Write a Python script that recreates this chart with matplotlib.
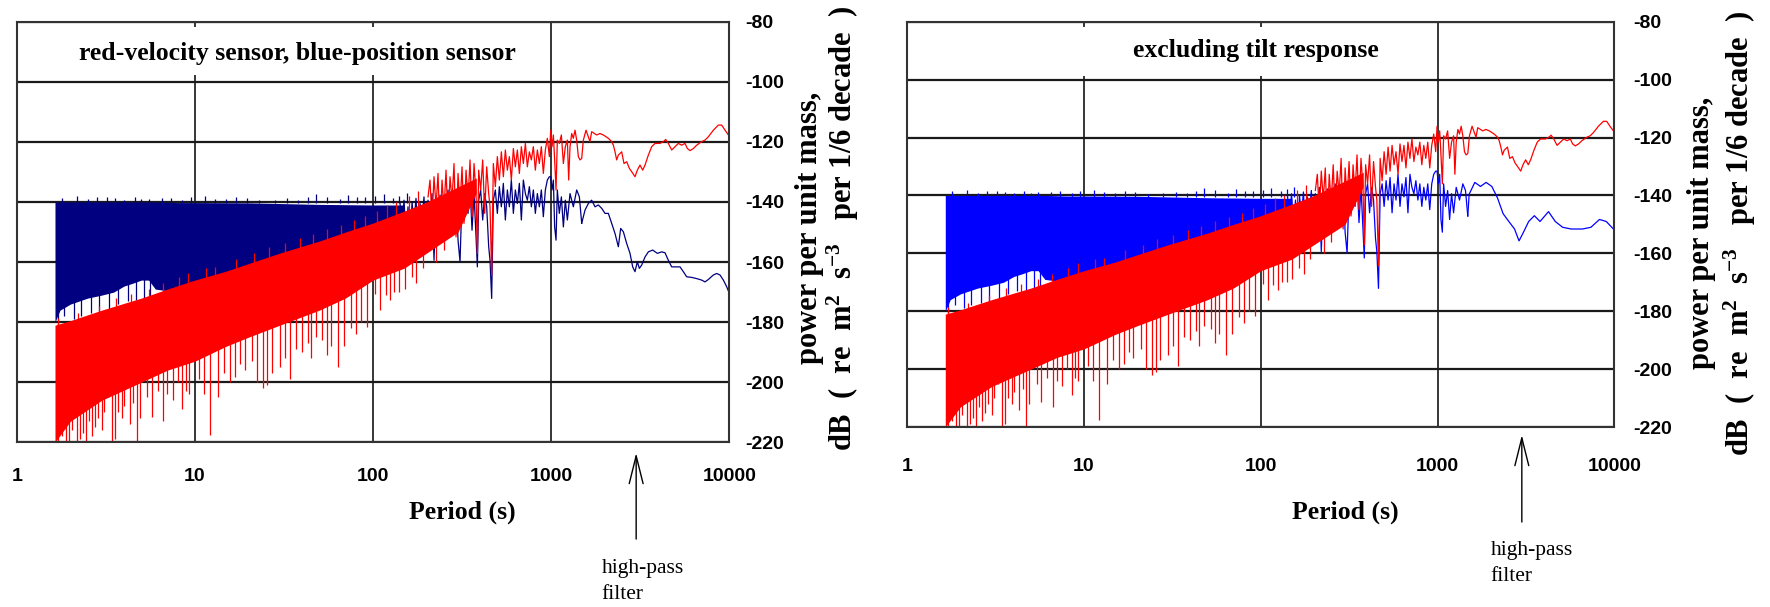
import numpy as np
import matplotlib
matplotlib.use("Agg")
import matplotlib.pyplot as plt
from matplotlib import font_manager
from matplotlib.patches import Rectangle
from matplotlib.ticker import NullLocator


def _resolve_font(candidates):
    for name in candidates:
        try:
            font_manager.findfont(name, fallback_to_default=False)
            return name
        except Exception:
            continue
    return "DejaVu Sans"


TICK_FONT = _resolve_font(["Liberation Sans Narrow", "Liberation Sans"])
TICK_SIZE = 16.5 if TICK_FONT == "Liberation Sans Narrow" else 14
SERIF_FONT = _resolve_font(["Liberation Serif", "DejaVu Serif"])

plt.rcParams["axes.unicode_minus"] = False
plt.rcParams["mathtext.fontset"] = "custom"
plt.rcParams["mathtext.rm"] = f"{SERIF_FONT}:bold"
plt.rcParams["mathtext.it"] = f"{SERIF_FONT}:bold"
plt.rcParams["mathtext.bf"] = f"{SERIF_FONT}:bold"

RED = "#FF0000"
NAVY = "#000080"
BLUE = "#0000FF"

PERIOD_TICKS = [1, 10, 100, 1000, 10000]
PERIOD_TICK_LABELS = ["1", "10", "100", "1000", "10000"]
DB_TICKS = [-220, -200, -180, -160, -140, -120, -100, -80]
DB_TICK_LABELS = ["-220", "-200", "-180", "-160", "-140", "-120", "-100", "-80"]

# dense short-period part of the velocity sensor spectrum (envelope of the band)
RED_BAND_PERIOD = [1.64, 2, 3, 5, 7, 10, 15, 20, 30, 50, 70, 100, 150, 200, 300, 380]
RED_BAND_TOP = [-181, -179.5, -176, -172, -169, -166, -163, -160.5, -157, -153, -150, -147, -143, -140,
                -135, -132]
RED_BAND_BOTTOM = [-220, -213, -206, -200, -196, -193, -188, -185, -181, -176, -172, -166, -162, -157,
                   -150, -137]

# downward spikes below the red band
RED_SPIKE_PERIOD = [1.7, 1.8, 1.88, 1.96, 2.05, 2.17, 2.27, 2.35, 2.45, 2.55, 2.65, 2.75, 2.85, 3.0,
                    3.1, 3.27, 3.42, 3.56, 3.7, 3.9, 4.0, 4.3, 4.5, 4.71, 4.9, 5.14, 5.4, 5.73, 6.2,
                    6.65, 7.0, 7.5, 8.0, 8.5, 8.9, 9.3, 10.5, 11.3, 12.1, 13.5, 14.5, 15.7, 16.9, 18,
                    19, 21, 22.4, 24.1, 25.5, 27, 30, 32, 34.2, 37, 40, 43, 45, 48, 52, 55, 58, 63.5,
                    69, 75, 80, 86, 93, 102.6, 110, 118, 125, 132, 140, 151, 165, 175, 190, 227, 250]
RED_SPIKE_LOW = [-220, -218, -220, -220, -216, -220, -219, -217, -220, -213, -218, -215, -212, -216,
                 -210, -205, -220, -219, -210, -212, -208, -214, -207, -220, -212, -196, -205, -211.5, -203,
                 -213, -204, -206, -200, -209, -203, -204, -199, -204, -217.5, -205, -197, -200, -198.3, -194,
                 -196, -193, -200, -202, -201, -197, -195, -192, -199, -189, -190, -187, -192, -185, -186, -191,
                 -188, -195, -188, -182, -184, -180, -181.6, -170.5, -176, -171, -172.5, -170, -170, -169,
                 -165, -167, -162, -160, -156]

# short upward teeth along the top of the red band
RED_PEAK_PERIOD = [1.7, 2.2, 2.9, 3.6, 4.4, 5.5, 6.6, 8.1, 9.2, 11.5, 13, 17, 21.5, 26, 32, 39, 46, 55,
                   66, 78, 90, 105, 120, 135, 160, 180]
RED_PEAK_TOP = [-178.5, -177, -174.5, -172, -170.5, -169, -167, -165, -163.5, -162, -161.5, -159, -157,
                -155, -153.5, -152, -150.5, -149, -147.5, -146, -144.5, -143, -141, -140, -138, -136.5]

# longer periods, individual oscillations of the velocity sensor trace
RED_TRACE_PERIOD = [203.6, 208.9, 214.4, 220.0, 225.8, 231.7, 237.8, 244.0, 250.4, 256.9, 263.6, 270.6,
                    277.6, 284.9, 292.4, 300.1, 307.9, 316.0, 324.3, 332.8, 341.5, 350.4, 359.6, 369.0,
                    378.7, 385.2, 391.9, 402.1, 412.7, 423.5, 434.6, 446.0, 453.7, 463.5, 473.6, 486.0,
                    498.8, 511.9, 525.3, 539.0, 553.2, 567.7, 582.5, 597.8, 613.5, 629.5, 646.0, 662.9,
                    680.3, 698.2, 716.5, 735.2, 754.5, 774.3, 794.3, 815.2, 836.5, 858.5, 880.9, 903.9,
                    927.6, 951.9, 977, 994, 1011, 1029, 1046, 1065, 1083, 1111, 1141, 1171, 1201, 1233,
                    1254, 1276, 1304, 1332, 1361, 1391, 1421, 1452, 1484, 1516, 1569, 1652, 1688, 1801,
                    1880, 1963, 2094, 2186, 2234, 2283, 2332, 2383, 2488, 2564, 2654, 2747, 2831, 2956,
                    3046, 3153, 3264, 3364, 3512, 3667, 3828, 4083, 4263, 4394, 4548, 4748, 4958, 5176,
                    5403, 5641, 5815, 6019, 6284, 6559, 6998, 7305, 7626, 8137, 8678, 9060, 9459, 10000]
RED_TRACE_DB = [-138.3, -132.7, -146.0, -131.6, -141.6, -130.5, -150.5, -132.7, -142.7, -129.4, -146.0, -131.6,
                -139.4, -127.2, -151.6, -130.5, -141.6, -128.3, -147.1, -129.4, -139.4, -126.0, -144.9, -127.2,
                -137.2, -157.1, -129.4, -136.0, -126.0, -143.8, -128.3, -137.2, -141.6, -164.3, -127.2, -134.9,
                -124.9, -132.7, -123.3, -131.6, -122.7, -129.4, -124.9, -132.7, -122.2, -128.3, -122.7, -130.5,
                -121.6, -127.2, -120.5, -128.3, -123.3, -126.0, -121.6, -129.4, -122.7, -127.2, -121.6, -130.5,
                -122.7, -118.8, -124.9, -116.1, -121.6, -117.7, -126.0, -136.0, -119.4, -120.5, -117.7, -127.2,
                -121.6, -119.4, -132.7, -121.6, -117.2, -118.8, -116.1, -119.4, -124.9, -126.0, -125.5, -119.4,
                -116.1, -119.9, -116.6, -117.7, -117.2, -117.7, -118.8, -119.9, -121.1, -123.3, -126.0, -124.4,
                -123.3, -127.2, -126.6, -128.8, -129.9, -131.6, -129.4, -127.7, -129.4, -127.7, -124.4, -121.6,
                -120.5, -120.5, -119.9, -119.2, -120.5, -122.7, -121.6, -120.5, -121.1, -120.5, -122.2, -122.9,
                -122.2, -121.1, -119.9, -119.4, -118.3, -116.1, -114.4, -114.4, -116.1, -118.1]

# dense short-period part of the position sensor spectrum
BLUE_BAND_PERIOD = [1.64, 1.75, 2.0, 2.5, 3.0, 3.5, 4.0, 4.5, 5.0, 5.5, 6.0, 8.0, 10, 20, 50, 100, 150]
BLUE_BAND_TOP = [-140, -140, -140, -140, -140, -140, -140, -140, -140, -140, -140, -140.2, -140.2, -140.3,
                 -140.8, -141, -141]
BLUE_BAND_BOTTOM = [-180, -176, -174, -172, -171, -170, -168, -167, -166, -166, -169, -170, -169, -163,
                    -156, -150, -146]

BLUE_SPIKE_PERIOD = [1.7, 1.85, 2.1, 2.3, 2.6, 2.9, 3.3, 3.7, 4.2, 4.7, 5.2, 5.6]
BLUE_SPIKE_LOW = [-181, -178, -179, -178, -177, -176.5, -176, -174, -173, -172.5, -172, -171.5]
BLUE_PEAK_PERIOD = [1.8, 2.17, 2.5, 2.81, 3.2, 3.56, 4.0, 4.6, 5.0, 5.5, 6.5, 7.3, 8.5, 9.5, 11.4, 13, 15,
                    17, 19.5, 23, 28, 33, 38, 43, 47.9, 55, 65, 72, 81, 90, 102.6, 115, 130, 140, 154.5]
BLUE_PEAK_TOP = [-138.6, -138.0, -139, -138.5, -138.4, -138.8, -139.2, -138.3, -139, -138.9, -138.7, -138.6,
                 -139.2, -138.4, -138.0, -138.9, -139.1, -138.4, -138.8, -139.4, -139.2, -138.8, -139.2,
                 -138.5, -137.4, -138.2, -139, -137.8, -138.5, -138.3, -138.0, -137.5, -138.6, -137.9, -137.1]

BLUE_TRACE_PERIOD = [141.8, 145.5, 149.3, 153.2, 157.2, 161.3, 165.6, 169.9, 174.3, 178.9, 183.6, 188.4,
                     193.3, 198.4, 203.6, 208.9, 214.4, 220.0, 225.8, 231.7, 237.8, 244.0, 250.4, 256.9,
                     263.6, 270.6, 277.6, 284.9, 292.4, 300.1, 307.9, 316.0, 324.3, 332.8, 341.5, 350.4,
                     359.6, 369.0, 378.7, 385.2, 391.9, 402.1, 412.7, 423.5, 434.6, 446.0, 453.7, 463.5,
                     473.6, 486.0, 498.8, 511.9, 525.3, 539.0, 553.2, 567.7, 582.5, 597.8, 613.5, 629.5,
                     646.0, 662.9, 680.3, 698.2, 716.5, 735.2, 754.5, 774.3, 794.3, 815.2, 836.5, 858.5,
                     880.9, 903.9, 927.6, 951.9, 976.8, 994, 1011, 1029, 1046, 1065, 1083, 1111, 1141,
                     1171, 1201, 1233, 1276, 1332, 1391, 1440, 1484]
BLUE_TRACE_DB = [-140.5, -148.3, -139.4, -151.6, -141.6, -157.1, -139.9, -147.1, -138.8, -152.7, -140.5, -146.0,
                 -138.3, -154.9, -139.4, -148.3, -137.2, -159.4, -139.4, -146.0, -137.7, -151.6, -138.3, -143.8,
                 -136.0, -150.5, -139.4, -144.9, -136.0, -152.7, -159.9, -138.3, -146.0, -137.2, -143.8, -134.9,
                 -149.4, -137.2, -151.6, -161.6, -139.4, -136.0, -146.0, -137.2, -141.6, -154.9, -159.4, -172.1,
                 -139.4, -136.0, -143.8, -134.9, -141.6, -133.8, -146.0, -136.0, -141.6, -132.7, -143.8, -136.0,
                 -140.5, -133.8, -146.0, -132.7, -137.2, -139.4, -134.9, -141.6, -136.0, -143.8, -137.2, -141.6,
                 -136.0, -144.9, -136.0, -132.7, -131.6, -131.6, -136.0, -132.7, -148.3, -152.7, -136.0, -143.8,
                 -138.3, -148.3, -139.4, -146.0, -137.2, -141.6, -136.0, -138.3, -147.1]

# long-period position sensor, raw and with tilt response removed
BLUE_TAIL_RAW_PERIOD = [1484, 1549, 1617, 1688, 1763, 1840, 1921, 2006, 2094, 2186, 2283, 2383, 2456, 2542,
                        2654, 2771, 2868, 2956, 3046, 3126, 3222, 3364, 3512, 3714, 3945, 4172, 4355, 4548,
                        4748, 5021, 5287, 5521, 5764, 6150, 6558, 6997, 7305, 7626, 8136, 8494, 8868, 9259,
                        9666, 10000]
BLUE_TAIL_RAW_DB = [-147.1, -142.7, -140.5, -139.4, -141.6, -141.0, -142.1, -143.8, -143.8, -147.1, -150.5,
                    -154.9, -148.8, -149.9, -153.8, -157.1, -161.6, -163.2, -159.9, -162.1, -161.0, -158.3,
                    -156.6, -156.0, -157.1, -156.6, -156.9, -159.4, -161.6, -161.6, -161.6, -163.2, -164.9,
                    -165.1, -165.5, -166.0, -166.6, -165.8, -164.3, -163.8, -164.3, -166.0, -168.2, -170.4]

BLUE_TAIL_TILT_PERIOD = [1484, 1510, 1626, 1750, 1884, 2029, 2186, 2350, 2533, 2728, 2893, 3048, 3280, 3532,
                         3803, 4246, 4638, 5105, 5702, 6607, 7382, 8248, 9011, 10000]
BLUE_TAIL_TILT_DB = [-147.1, -139.6, -135.5, -136.9, -135.5, -136.9, -140.9, -146.3, -149.0, -151.6, -155.7,
                     -153.0, -149.0, -147.0, -149.0, -145.6, -149.0, -151.0, -151.6, -151.6, -151.0, -148.3,
                     -149.0, -151.9]

HIGH_PASS_PERIOD = 3000


def _log_interp(x, xp, fp):
    return np.interp(np.log10(x), np.log10(xp), fp)


def draw_panel(ax, blue, tail_period, tail_db, title, title_x, title_y, box_right, box_bottom,
               xpad, ypad, arrow_y, note_x, note_y):
    ax.set_xscale("log")
    ax.set_xlim(1, 10000)
    ax.set_ylim(-220, -80)

    # position sensor first, velocity sensor drawn over it
    ax.fill_between(BLUE_BAND_PERIOD, BLUE_BAND_BOTTOM, BLUE_BAND_TOP, color=blue, lw=0, zorder=1)
    start = _log_interp(BLUE_SPIKE_PERIOD, BLUE_BAND_PERIOD, BLUE_BAND_BOTTOM)
    ax.vlines(BLUE_SPIKE_PERIOD, BLUE_SPIKE_LOW, start + 1, color=blue, lw=0.9, zorder=1)
    ax.vlines(BLUE_PEAK_PERIOD, -140.5, BLUE_PEAK_TOP, color=blue, lw=0.9, zorder=1)
    ax.plot(BLUE_TRACE_PERIOD, BLUE_TRACE_DB, color=blue, lw=0.9, zorder=1.1)
    ax.plot(tail_period, tail_db, color=blue, lw=0.9, zorder=1.1)

    ax.fill_between(RED_BAND_PERIOD, RED_BAND_BOTTOM, RED_BAND_TOP, color=RED, lw=0, zorder=2)
    start = _log_interp(RED_SPIKE_PERIOD, RED_BAND_PERIOD, RED_BAND_BOTTOM)
    ax.vlines(RED_SPIKE_PERIOD, RED_SPIKE_LOW, start + 1, color=RED, lw=0.9, zorder=2)
    start = _log_interp(RED_PEAK_PERIOD, RED_BAND_PERIOD, RED_BAND_TOP)
    ax.vlines(RED_PEAK_PERIOD, start - 1, RED_PEAK_TOP, color=RED, lw=0.9, zorder=2)
    ax.plot(RED_TRACE_PERIOD, RED_TRACE_DB, color=RED, lw=0.9, zorder=2.1)

    ax.set_xticks(PERIOD_TICKS)
    ax.set_xticklabels(PERIOD_TICK_LABELS)
    ax.xaxis.set_minor_locator(NullLocator())
    ax.yaxis.tick_right()
    ax.set_yticks(DB_TICKS)
    ax.set_yticklabels(DB_TICK_LABELS)
    ax.tick_params(axis="both", length=0, labelsize=TICK_SIZE, labelfontfamily=TICK_FONT)
    ax.tick_params(axis="x", pad=xpad)
    ax.tick_params(axis="y", pad=ypad)
    for lab in ax.get_xticklabels() + ax.get_yticklabels():
        lab.set_fontweight("bold")

    ax.set_axisbelow(True)
    ax.xaxis.grid(True, color="black", lw=1.1)
    ax.yaxis.grid(True, color="#1a1a1a", lw=1.6)
    for sp in ax.spines.values():
        sp.set_color("#333333")
        sp.set_linewidth(1.5)
        sp.set_zorder(5)

    ax.add_patch(Rectangle((0, box_bottom), box_right, 0.987 - box_bottom, transform=ax.transAxes,
                           facecolor="white", edgecolor="none", zorder=3))
    ax.text(title_x, title_y, title, transform=ax.transAxes, ha="center", va="center",
            fontsize=18.5, fontweight="bold", family=SERIF_FONT, zorder=4)

    trans = ax.get_xaxis_transform()
    ax.annotate("", xy=(HIGH_PASS_PERIOD, arrow_y[0]), xycoords=trans,
                xytext=(HIGH_PASS_PERIOD, arrow_y[1]), textcoords=trans,
                arrowprops=dict(arrowstyle="->,head_length=2.0,head_width=0.5", color="black",
                                lw=1.0, mutation_scale=10, shrinkA=0, shrinkB=0),
                annotation_clip=False)
    ax.text(note_x, note_y, "high-pass\nfilter", transform=trans, ha="left", va="center",
            fontsize=15.5, family=SERIF_FONT, linespacing=1.5, clip_on=False)


fig = plt.figure(figsize=(17.7, 6.07), dpi=100)
fig.patch.set_facecolor("white")

ax_left = fig.add_axes([0.00944, 0.2713, 0.4026, 0.6929])
draw_panel(ax_left, NAVY, BLUE_TAIL_RAW_PERIOD, BLUE_TAIL_RAW_DB,
           "red-velocity sensor, blue-position sensor", 0.3933, 0.9256, 0.72, 0.873,
           18.5, 11.3, (-0.0254, -0.23), 1923, -0.33)

ax_right = fig.add_axes([0.5126, 0.2965, 0.3994, 0.6677])
draw_panel(ax_right, BLUE, BLUE_TAIL_TILT_PERIOD, BLUE_TAIL_TILT_DB,
           "excluding tilt response", 0.4932, 0.929, 0.686, 0.867,
           22.3, 13.5, (-0.0197, -0.2344), 2001, -0.337)

YLABEL_1 = "power per unit mass,"
YLABEL_2 = r"dB  (  re  m$^{2}$  s$^{-3}$   per 1/6 decade  )"
for x1, x2, yc in [(0.4573, 0.4760, 0.624), (0.9613, 0.9830, 0.616)]:
    fig.text(x1, yc, YLABEL_1, rotation=90, ha="center", va="center",
             fontsize=22, fontweight="bold", family=SERIF_FONT)
    fig.text(x2, yc, YLABEL_2, rotation=90, ha="center", va="center",
             fontsize=22, fontweight="bold", family=SERIF_FONT)

for xc in (0.2610, 0.7599):
    fig.text(xc, 0.1560, "Period (s)", ha="center", va="center",
             fontsize=18.5, fontweight="bold", family=SERIF_FONT)

fig.savefig("out.png", dpi=100, facecolor="white")
